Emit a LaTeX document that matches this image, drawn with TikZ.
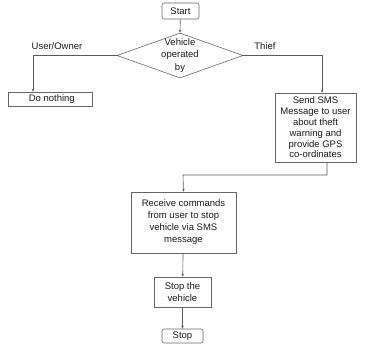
\documentclass[tikz,border=0pt]{standalone}
\usepackage{fontspec}
\setmainfont{Liberation Sans}
\usetikzlibrary{shapes.geometric,arrows.meta}
\begin{document}
\begin{tikzpicture}[x=1pt,y=-1pt,
  every node/.style={font=\fontsize{9.5}{12}\selectfont, text=black!90},
  box/.style={draw=black!60, line width=0.6pt, inner sep=0pt, align=center},
  conn/.style={draw=black!65, line width=0.6pt},
  arr/.style={conn, -{Stealth[length=3pt,width=2.5pt]}}]
\useasboundingbox (0,0) rectangle (373,349);
\node[box, rounded corners=2pt, minimum width=37pt, minimum height=16pt] (start) at (180.5,11) {Start};
\node[box, diamond, aspect=2.8, minimum width=126pt, minimum height=45pt] (dec) at (180,55.5) {};
\node[align=center, font=\fontsize{9.5}{12.5}\selectfont] at (180,55.5) {Vehicle\\operated\\by};
\node[box, minimum width=84pt, minimum height=14pt, anchor=west, align=left] (nothing) at (8,99) {\hspace{3pt}Do nothing\hfill};
\node[box, minimum width=81pt, minimum height=69pt, font=\fontsize{9.5}{10.8}\selectfont] (sms) at (315.5,127.5) {Send SMS\\Message to user\\about theft\\warning and\\provide GPS\\co-ordinates};
\node[box, minimum width=105pt, minimum height=61pt] (recv) at (183.5,222.5) {Receive commands\\from user to stop\\vehicle via SMS\\message};
\node[box, minimum width=57pt, minimum height=30pt] (stopv) at (182.5,292) {Stop the\\vehicle};
\node[box, rounded corners=2pt, minimum width=41pt, minimum height=14pt] (stop) at (182.5,336) {Stop};
\coordinate (L) at (33,55.5);
\coordinate (R) at (322,55.5);
\coordinate (m1) at (327,175);
\coordinate (m2) at (183,175);
\draw[arr] (start) -- (dec.north);
\draw[arr] (dec.west) -- (L) -- (L |- nothing.north);
\draw[arr] (dec.east) -- (R) -- (R |- sms.north);
\draw[arr] (m1 |- sms.south) -- (m1) -- (m2) -- (recv.north);
\draw[arr] (recv) -- (stopv);
\draw[arr] (stopv) -- (stop);
\node at (57,46) {User/Owner};
\node at (265,46) {Thief};
\end{tikzpicture}
\end{document}
